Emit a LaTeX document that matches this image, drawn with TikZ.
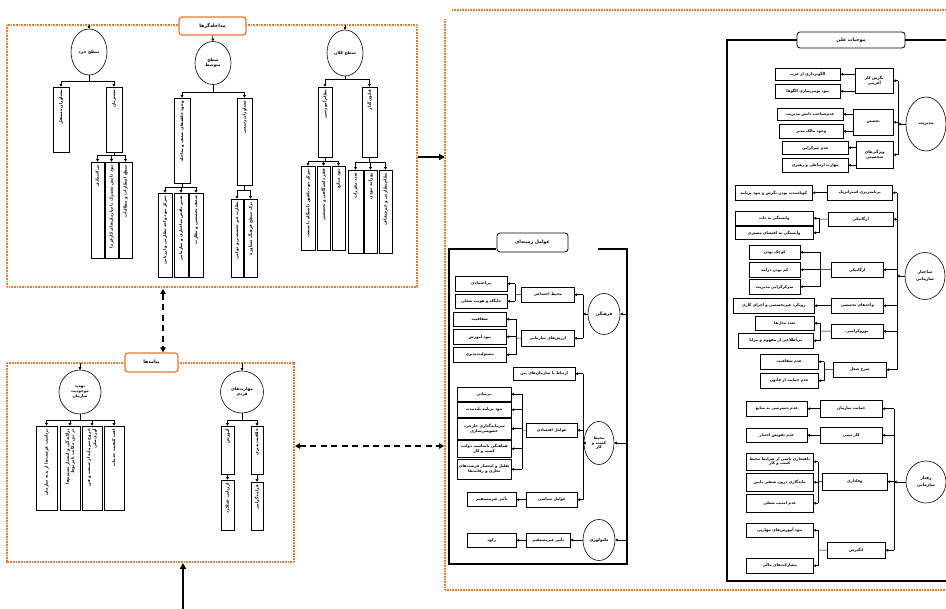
\documentclass[tikz,border=0pt]{standalone}
\usepackage{fontspec}
\newfontfamily\fa[Script=Arabic]{DejaVu Sans}
\TeXXeTstate=1
\usetikzlibrary{arrows.meta,shapes.geometric}
\definecolor{frameorange}{RGB}{228,122,52}
\newcommand\R[1]{\beginR#1\endR}
% horizontal box: name, x1, y1, x2, y2, text
\newcommand\hb[6]{%
  \pgfmathsetmacro\qw{#4-#2}\pgfmathsetmacro\qh{#5-#3}%
  \node[box,minimum width=\qw pt,minimum height=\qh pt,anchor=north west] (#1) at (#2,#3) {#6};}
% vertical box with rotated text (east = top, west = bottom)
\newcommand\vb[6]{%
  \pgfmathsetmacro\qw{#4-#2}\pgfmathsetmacro\qh{#5-#3}%
  \pgfmathsetmacro\qx{(#2+#4)/2}\pgfmathsetmacro\qy{(#3+#5)/2}\pgfmathsetmacro\qt{#5-#3-6}%
  \node[box,vtext,rotate=90,minimum width=\qh pt,minimum height=\qw pt,text width=\qt pt,align=right] (#1) at (\qx,\qy) {#6};}
\tikzset{
  box/.style={draw,line width=0.5pt,inner sep=0.4pt,fill=white,align=center,
    font=\fa\bfseries\fontsize{3.85}{4.5}\selectfont},
  vtext/.style={font=\fa\bfseries\fontsize{4.1}{4.9}\selectfont},
  oval/.style={draw,ellipse,line width=0.6pt,inner sep=0pt,align=center,fill=white,
    font=\fa\bfseries\fontsize{4.2}{5.6}\selectfont},
  arr/.style={-{Triangle[length=2.6pt,width=2.8pt]},line width=0.5pt},
  ln/.style={line width=0.5pt},
  bigarr/.style={-{Triangle[length=6pt,width=6pt]},line width=1.8pt},
  dasharr/.style={{Triangle[length=5pt,width=5.5pt]}-{Triangle[length=5pt,width=5.5pt]},
    line width=1.8pt,dash pattern=on 6pt off 4.5pt},
  orangedots/.style={draw=frameorange,line width=1.4pt,dash pattern=on 0.9pt off 0.7pt},
  ohead/.style={draw=frameorange,line width=1.3pt,rounded corners=3pt,fill=white,
    inner sep=0pt,font=\fa\bfseries\fontsize{4.7}{5.6}\selectfont},
  khead/.style={draw,line width=0.8pt,rounded corners=3pt,fill=white,
    inner sep=0pt,font=\fa\bfseries\fontsize{4.7}{5.6}\selectfont},
  frame/.style={line width=1.2pt},
}
\begin{document}
\begin{tikzpicture}[x=1pt,y=-1pt]
\useasboundingbox (0,0) rectangle (946,609);
\fill[white] (0,0) rectangle (946,609);

% ================= intervening conditions =================
\draw[orangedots] (7,25) rectangle (417,287);
\node[ohead,minimum width=67pt,minimum height=18pt] (hInt) at (212.5,26) {\R{مداخله‌گرها}};

\node[oval,minimum width=36pt,minimum height=46pt] (cMicro) at (89,52) {\R{سطح خرد}};
\node[oval,minimum width=36pt,minimum height=43pt] (cMeso) at (213,63) {\R{سطح}\\\R{متوسط}};
\node[oval,minimum width=36pt,minimum height=46pt] (cMacro) at (345,53) {\R{سطح کلان}};
\coordinate (tMicro) at (89,25.5);
\coordinate (tMacro) at (345,25.5);
\draw[arr] (tMicro) -- (cMicro.north);
\draw[arr] (hInt.south) -- (cMeso.north);
\draw[arr] (tMacro) -- (cMacro.north);

% micro level
\vb{mA}{53}{87}{69}{152}{\R{مشاوران مستقل}}
\vb{mB}{106}{87}{122}{152}{\R{مشتریان}}
\coordinate (jMicro) at (89,81);
\draw[ln] (cMicro.south) -- (jMicro);
\draw[arr] (jMicro) -| (mA.east);
\draw[arr] (jMicro) -| (mB.east);
\vb{mB1}{91}{162}{104}{258}{\R{بی‌اعتمادی}}
\vb{mB2}{105}{162}{118}{258}{\R{نبود دانش مشترک با سازمان‌های کارفرما}}
\vb{mB3}{119}{162}{132}{258}{\R{سطح انتظارات و مطالبات}}
\coordinate (jMB) at (114,155);
\draw[ln] (mB.west) -- (jMB);
\draw[arr] (jMB) -| (mB1.east);
\draw[arr] (jMB) -| (mB2.east);
\draw[arr] (jMB) -| (mB3.east);

% meso level
\vb{sA}{174}{98}{190}{183}{\R{وجود حلقه‌های ضعف و مداخله}}
\vb{sB}{237}{98}{252}{185}{\R{مشاوران رسمی}}
\coordinate (jMeso) at (213,92);
\draw[ln] (cMeso.south) -- (jMeso);
\draw[arr] (jMeso) -| (sA.east);
\draw[arr] (jMeso) -| (sB.east);
\vb{sA1}{158}{193}{172}{277}{\R{تمرکز نبود واحد نظارتی و ارزیابی}}
\vb{sA2}{174}{193}{188}{277}{\R{تغییر ناقص ساختاری و سازمانی}}
\vb{sA3}{189}{193}{203}{277}{\R{ضعف تخصصی و نظارت}}
\coordinate (jSA) at (182,187);
\draw[ln] (sA.west) -- (jSA);
\draw[arr] (jSA) -| (sA1.east);
\draw[arr] (jSA) -| (sA2.east);
\draw[arr] (jSA) -| (sA3.east);
\vb{sB1}{231}{199}{243}{277}{\R{نظارت غیر تخصصی و دولتی}}
\vb{sB2}{244}{199}{257}{277}{\R{درک سطح فرهنگ مشاوره}}
\coordinate (jSB) at (244.5,190);
\draw[ln] (sB.west) -- (jSB);
\draw[arr] (jSB) -| (sB1.east);
\draw[arr] (jSB) -| (sB2.east);

% macro level
\vb{kA}{318}{87}{332}{157}{\R{نظام آموزشی}}
\vb{kB}{362}{87}{377}{157}{\R{قانون‌گذار}}
\coordinate (jMacro) at (345,79);
\draw[ln] (cMacro.south) -- (jMacro);
\draw[arr] (jMacro) -| (kA.east);
\draw[arr] (jMacro) -| (kB.east);
\vb{kA1}{301}{166}{315}{250}{\R{تمرکز نبود تلفیق دانشگاه با صنعت}}
\vb{kA2}{317}{166}{330}{250}{\R{فقر دانشگاهی و تخصصی}}
\vb{kA3}{332}{166}{345}{250}{\R{نبود منابع}}
\coordinate (jKA) at (325,161);
\draw[ln] (kA.west) -- (jKA);
\draw[arr] (jKA) -| (kA1.east);
\draw[arr] (jKA) -| (kA2.east);
\draw[arr] (jKA) -| (kA3.east);
\vb{kB1}{348}{170}{363}{253}{\R{تعدد مقررات}}
\vb{kB2}{364}{170}{377}{253}{\R{روزآمد نبودن}}
\vb{kB3}{379}{170}{392}{253}{\R{نظام نظارتی و غیرشفاف}}
\coordinate (jKB) at (369.5,162);
\draw[ln] (kB.west) -- (jKB);
\draw[arr] (jKB) -| (kB1.east);
\draw[arr] (jKB) -| (kB2.east);
\draw[arr] (jKB) -| (kB3.east);

% link to causal conditions
\coordinate (eInt) at (418,157);
\coordinate (wCause) at (445,157);
\draw[bigarr] (eInt) -- (wCause);

% ================= outcomes =================
\draw[orangedots] (7,363) rectangle (294,562);
\node[ohead,minimum width=53pt,minimum height=19pt] (hOut) at (151.5,362.5) {\R{پیامدها}};
\coordinate (dTop) at (163,289);
\draw[dasharr] (dTop) -- (dTop |- hOut.north);
\coordinate (bIn) at (183,609);
\coordinate (oBot) at (183,563);
\draw[bigarr] (bIn) -- (oBot);

\node[oval,minimum width=42pt,minimum height=44pt,font=\fa\bfseries\fontsize{3.9}{4.8}\selectfont] (cThreat) at (80,392) {\R{تهدید}\\\R{موجودیت}\\\R{سازمان}};
\node[oval,minimum width=43pt,minimum height=42pt] (cSkill) at (242,392) {\R{مهارت‌های}\\\R{فردی}};
\coordinate (tThreat) at (80,363.5);
\coordinate (tSkill) at (242,363.5);
\draw[arr] (tThreat) -- (cThreat.north);
\draw[arr] (tSkill) -- (cSkill.north);

\vb{t1}{36}{426}{57}{510}{\R{برداشت فرصت‌ها از بدنه سازمان}}
\vb{t2}{60}{426}{80}{510}{\R{پراکندگی و انتشار تصمیم‌ها}\\\R{در بین مکاتب نامربوط}}
\vb{t3}{82}{426}{102}{510}{\R{خروج سرمایه از صنعت و فن}\\\R{آوری ملی}}
\vb{t4}{104}{426}{124}{510}{\R{افت کیفیت خدمات}}
\coordinate (jT) at (80,420);
\draw[ln] (cThreat.south) -- (jT);
\draw[arr] (jT) -| (t1.east);
\draw[arr] (jT) -| (t2.east);
\draw[arr] (jT) -| (t3.east);
\draw[arr] (jT) -| (t4.east);

\vb{s1}{221}{426}{234}{474}{\R{آموزش}}
\vb{s2}{251}{426}{263}{474}{\R{خلاقیت‌پذیری}}
\vb{s1b}{221}{480}{234}{530}{\R{ارزیابی عملکرد}}
\vb{s2b}{251}{482}{263}{530}{\R{فرایندگرایی}}
\coordinate (jS) at (242,420);
\draw[ln] (cSkill.south) -- (jS);
\draw[arr] (jS) -| (s1.east);
\draw[arr] (jS) -| (s2.east);
\draw[arr] (s1.west) -- (s1b.east);
\draw[arr] (s2.west) -- (s2b.east);

\coordinate (dL) at (295,446);
\coordinate (dR) at (444,446);
\draw[dasharr] (dL) -- (dR);

% ================= outer frame of causal and contextual conditions =================
\draw[orangedots] (452,10) -- (946,10);
\draw[orangedots] (445,19) -- (445,590) -- (946,590);

% ================= contextual factors =================
\node[khead,minimum width=71pt,minimum height=19pt] (hCtx) at (532.5,242.5) {\R{عوامل زمینه‌ای}};
\draw[frame] (496,249) -- (449,249) -- (449,564) -- (627,564) -- (627,249) -- (598,249);

\node[oval,minimum width=32pt,minimum height=41pt] (cCult) at (604,314) {\R{فرهنگی}};
\node[oval,minimum width=30pt,minimum height=43pt,font=\fa\bfseries\fontsize{3.9}{4.8}\selectfont] (cBiz) at (599,443) {\R{محیط}\\\R{کسب و}\\\R{کار}};
\node[oval,minimum width=32pt,minimum height=41pt] (cTech) at (599,540) {\R{تکنولوژی}};
\coordinate (fCult) at (627,314);
\coordinate (fBiz) at (627,443);
\coordinate (fTech) at (627,540);
\draw[arr] (fCult) -- (cCult.east);
\draw[arr] (fBiz) -- (cBiz.east);
\draw[arr] (fTech) -- (cTech.east);

% cultural
\hb{cu1}{521}{287}{574}{302}{\R{محیط اجتماعی}}
\hb{cu2}{521}{330}{574}{346}{\R{ارزش‌های سازمانی}}
\coordinate (brCu) at (583,314);
\draw[arr] (cCult.west) -- (brCu);
\draw[ln] (brCu |- cu1.east) -- (brCu |- cu2.east);
\draw[arr] (brCu |- cu1.east) -- (cu1.east);
\draw[arr] (brCu |- cu2.east) -- (cu2.east);
\hb{cu11}{455}{276}{507}{291}{\R{بی‌اعتمادی}}
\hb{cu12}{455}{294}{507}{308}{\R{جایگاه و هویت شغلی}}
\coordinate (brCu1) at (515,294.5);
\draw[ln] (cu1.west) -- (brCu1);
\draw[ln] (brCu1 |- cu11.east) -- (brCu1 |- cu12.east);
\draw[arr] (brCu1 |- cu11.east) -- (cu11.east);
\draw[arr] (brCu1 |- cu12.east) -- (cu12.east);
\hb{cu21}{453}{312}{506}{326}{\R{شفافیت}}
\hb{cu22}{453}{329}{506}{344}{\R{نبود آموزش}}
\hb{cu23}{453}{347}{506}{362}{\R{مسئولیت‌پذیری}}
\coordinate (brCu2) at (516,338);
\draw[ln] (cu2.west) -- (brCu2);
\draw[ln] (brCu2 |- cu21.east) -- (brCu2 |- cu23.east);
\draw[arr] (brCu2 |- cu21.east) -- (cu21.east);
\draw[arr] (brCu2 |- cu22.east) -- (cu22.east);
\draw[arr] (brCu2 |- cu23.east) -- (cu23.east);

% business environment
\hb{bz1}{513}{367}{575}{380}{\R{ارتباط با سازمان‌های بین}}
\hb{bz2}{526}{423}{577}{437}{\R{عوامل اقتصادی}}
\hb{bz3}{526}{492}{577}{507}{\R{عوامل سیاسی}}
\coordinate (brBz) at (583,443);
\draw[arr] (cBiz.west) -- (brBz);
\draw[ln] (brBz |- bz1.east) -- (brBz |- bz3.east);
\draw[arr] (brBz |- bz1.east) -- (bz1.east);
\draw[arr] (brBz |- bz2.east) -- (bz2.east);
\draw[arr] (brBz |- bz3.east) -- (bz3.east);
\hb{bz21}{457}{387}{511}{401}{\R{بی‌ثباتی}}
\hb{bz22}{457}{402}{511}{417}{\R{نبود برنامه بلندمدت}}
\hb{bz23}{457}{418}{511}{439}{\R{سرمایه‌گذاری خارجی،}\\\R{خصوصی‌سازی}}
\hb{bz24}{457}{440}{511}{457}{\R{هماهنگی نامناسب دولت،}\\\R{کسب و کار}}
\hb{bz25}{457}{459}{511}{479}{\R{تقلیل و انحصار فرصت‌های}\\\R{تجاری و رقابت‌ها}}
\coordinate (brBz2) at (522,430);
\draw[ln] (bz2.west) -- (brBz2);
\draw[ln] (brBz2 |- bz21.east) -- (brBz2 |- bz25.east);
\foreach \c in {bz21,bz22,bz23,bz24,bz25}
  \draw[arr] (brBz2 |- \c.east) -- (\c.east);
\hb{bz31}{467}{492}{516}{506}{\R{تأثیر غیرمستقیم}}
\draw[arr] (bz3.west) -- (bz3.west -| bz31.east);

% technology
\hb{te1}{526}{533}{570}{547}{\R{تأثیر غیرمستقیم}}
\hb{te2}{467}{533}{516}{547}{\R{رکود}}
\draw[arr] (cTech.west) -- (cTech.west -| te1.east);
\draw[arr] (te1.west) -- (te2.east);

% ================= causal conditions =================
\node[khead,minimum width=108pt,minimum height=16pt] (hCause) at (851,40) {\R{موجبات علی}};
\draw[frame] (hCause.west) -- (727,40) -- (727,581) -- (946,581);
\draw[frame] (hCause.east) -- (946,40);

\node[oval,minimum width=40pt,minimum height=54pt] (cMgmt) at (926,124) {\R{مدیریت}};
\node[oval,minimum width=40pt,minimum height=47pt] (cStruct) at (925,276) {\R{ساختار}\\[1pt]\R{سازمانی}};
\node[oval,minimum width=40pt,minimum height=42pt] (cBehav) at (926,482) {\R{رفتار}\\[1pt]\R{سازمانی}};

% management
\hb{mg1}{855}{68}{893}{93}{\R{نگرش کار}\\\R{آفرینی}}
\hb{mg2}{853}{109}{893}{135}{\R{تخصص}}
\hb{mg3}{856}{141}{893}{168}{\R{ویژگی‌های}\\\R{شخصیتی}}
\coordinate (brMg) at (898,124);
\draw[arr] (cMgmt.west) -- (brMg);
\draw[ln] (brMg |- mg1.east) -- (brMg |- mg3.east);
\foreach \c in {mg1,mg2,mg3}
  \draw[arr] (brMg |- \c.east) -- (\c.east);
\hb{mg11}{775}{68}{840}{80}{\R{الگوبرداری از غرب}}
\hb{mg12}{775}{84}{840}{98}{\R{نبود بومی‌سازی الگوها}}
\hb{mg21}{777}{108}{843}{120}{\R{عدم‌شناخت دانش مدیریت}}
\hb{mg22}{779}{124}{843}{138}{\R{وجود مالک مدیر}}
\hb{mg31}{782}{141}{848}{154}{\R{عدم تیم‌گرایی}}
\hb{mg32}{782}{158}{848}{172}{\R{مهارت ارتباطی و رهبری}}
\draw[arr] (mg1.west |- mg11.east) -- (mg11.east);
\draw[arr] (mg1.west |- mg12.east) -- (mg12.east);
\draw[arr] (mg2.west |- mg21.east) -- (mg21.east);
\draw[arr] (mg2.west |- mg22.east) -- (mg22.east);
\draw[arr] (mg3.west |- mg31.east) -- (mg31.east);
\draw[arr] (mg3.west |- mg32.east) -- (mg32.east);

% organisational structure
\hb{st1}{827}{185}{892}{200}{\R{برنامه‌ریزی استراتژیک}}
\hb{st2}{828}{212}{893}{226}{\R{ارگانیکی}}
\hb{st3}{831}{262}{883}{277}{\R{ارگانیکی}}
\hb{st4}{831}{298}{883}{313}{\R{واحدهای تخصصی}}
\hb{st5}{831}{324}{883}{338}{\R{بوروکراسی}}
\hb{st6}{833}{362}{886}{377}{\R{شرح شغل}}
\coordinate (brSt) at (897,276);
\draw[arr] (cStruct.west) -- (brSt);
\draw[ln] (brSt |- st1.east) -- (brSt |- st6.east);
\foreach \c in {st1,st2,st3,st4,st5,st6}
  \draw[arr] (brSt |- \c.east) -- (\c.east);
\hb{st11}{735}{185}{812}{200}{\R{کوتاه‌مدت بودن نگرش و نبود برنامه}}
\draw[arr] (st1.west) -- (st11.east);
\hb{st21}{735}{211}{813}{225}{\R{وابستگی به ذات}}
\hb{st22}{735}{226}{813}{239}{\R{وابستگی به اقتضای مشتری}}
\coordinate (brSt2) at (819,219);
\draw[ln] (st2.west) -- (brSt2);
\draw[ln] (brSt2 |- st21.east) -- (brSt2 |- st22.east);
\draw[arr] (brSt2 |- st21.east) -- (st21.east);
\draw[arr] (brSt2 |- st22.east) -- (st22.east);
\hb{st31}{749}{245}{800}{259}{\R{کوچک بودن}}
\hb{st32}{749}{262}{800}{277}{\R{کم بودن درآمد}}
\hb{st33}{749}{279}{800}{294}{\R{تمرکزگرایی مدیریت}}
\coordinate (brSt3) at (820,269.5);
\draw[ln] (st3.west) -- (brSt3);
\draw[ln] (brSt3 |- st31.east) -- (brSt3 |- st33.east);
\foreach \c in {st31,st32,st33}
  \draw[arr] (brSt3 |- \c.east) -- (\c.east);
\hb{st41}{733}{298}{814}{313}{\R{رویکرد غیرتخصصی و اجرای کاری}}
\draw[arr] (st4.west) -- (st41.east);
\hb{st51}{755}{316}{814}{330}{\R{تعدد مدل‌ها}}
\hb{st52}{738}{333}{813}{348}{\R{بی‌اطلاعی از مفهوم و مزایا}}
\coordinate (brSt5) at (820,331);
\draw[ln] (st5.west) -- (brSt5);
\draw[ln] (brSt5 |- st51.east) -- (brSt5 |- st52.east);
\draw[arr] (brSt5 |- st51.east) -- (st51.east);
\draw[arr] (brSt5 |- st52.east) -- (st52.east);
\hb{st61}{760}{354}{818}{369}{\R{عدم شفافیت}}
\hb{st62}{760}{373}{818}{388}{\R{عدم حمایت از قانون}}
\coordinate (brSt6) at (824,369.5);
\draw[ln] (st6.west) -- (brSt6);
\draw[ln] (brSt6 |- st61.east) -- (brSt6 |- st62.east);
\draw[arr] (brSt6 |- st61.east) -- (st61.east);
\draw[arr] (brSt6 |- st62.east) -- (st62.east);

% organisational behaviour
\hb{bh1}{820}{400}{882}{417}{\R{حمایت سازمان}}
\hb{bh2}{820}{427}{882}{443}{\R{کار تیمی}}
\hb{bh3}{822}{473}{887}{490}{\R{وفاداری}}
\hb{bh4}{827}{542}{885}{558}{\R{انگیزش}}
\coordinate (brBh) at (894,482);
\draw[arr] (cBehav.west) -- (brBh);
\draw[ln] (brBh |- bh1.east) -- (brBh |- bh4.east);
\foreach \c in {bh1,bh2,bh3,bh4}
  \draw[arr] (brBh |- \c.east) -- (\c.east);
\hb{bh11}{746}{401}{807}{416}{\R{عدم دسترسی به منابع}}
\hb{bh21}{746}{428}{807}{442}{\R{عدم تفویض اختیار}}
\draw[arr] (bh1.west) -- (bh11.east);
\draw[arr] (bh2.west) -- (bh21.east);
\hb{bh31}{746}{453}{813}{470}{\R{ناهنجاری ناشی از شرایط محیط}\\\R{کسب و کار}}
\hb{bh32}{746}{473}{813}{491}{\R{ماندگاری درون صنفی پایین}}
\hb{bh33}{746}{494}{813}{512}{\R{عدم امنیت شغلی}}
\coordinate (brBh3) at (818,481.5);
\draw[ln] (bh3.west) -- (brBh3);
\draw[ln] (brBh3 |- bh31.east) -- (brBh3 |- bh33.east);
\foreach \c in {bh31,bh32,bh33}
  \draw[arr] (brBh3 |- \c.east) -- (\c.east);
\hb{bh41}{746}{523}{813}{537}{\R{نبود آموزش‌های مهارتی}}
\hb{bh42}{746}{558}{813}{573}{\R{مشارکت‌های مالی}}
\coordinate (brBh4) at (818,550);
\draw[ln] (bh4.west) -- (brBh4);
\draw[ln] (brBh4 |- bh41.east) -- (brBh4 |- bh42.east);
\draw[arr] (brBh4 |- bh41.east) -- (bh41.east);
\draw[arr] (brBh4 |- bh42.east) -- (bh42.east);
\end{tikzpicture}
\end{document}
